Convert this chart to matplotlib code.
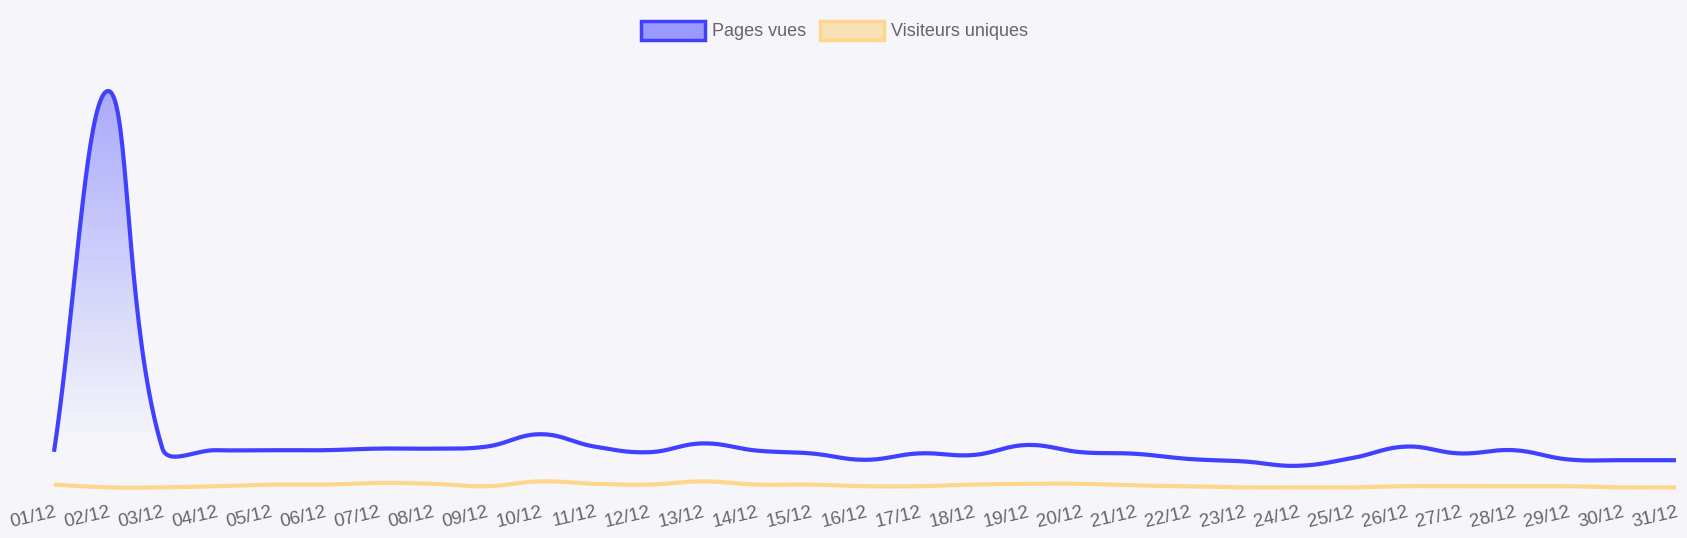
import numpy as np
import matplotlib
matplotlib.use("Agg")
import matplotlib.pyplot as plt
from matplotlib.patches import Patch, Polygon

plt.rcParams['font.family'] = ['Liberation Sans', 'DejaVu Sans']

# ---- data ----
labels = [f"{d:02d}/12" for d in range(1, 32)]
pages_vues = [98, 1000, 108, 102, 102, 102, 106, 106, 111, 142, 111, 97, 119, 101, 94,
              78, 94, 90, 115, 97, 93, 80, 74, 63, 82, 111, 94, 102, 79, 77, 77]
visiteurs = [16, 9, 9, 12, 16, 16, 20, 18, 12, 24, 18, 16, 24, 16, 16,
             12, 12, 16, 18, 18, 14, 12, 9, 9, 9, 12, 12, 12, 12, 9, 9]
series_names = ["Pages vues", "Visiteurs uniques"]

# ---- style ----
W, H = 1687, 538
BG = '#f5f5fa'
BLUE = '#4040ff'
ORANGE = '#fed68c'
TXT = '#666666'
TENSION = 0.4

fig = plt.figure(figsize=(W / 100, H / 100), dpi=100, facecolor=BG)
left_px, right_px, top_px, bot_px = 54, 1676, 75, 491
ax = fig.add_axes([left_px / W, 1 - bot_px / H, (right_px - left_px) / W, (bot_px - top_px) / H])
ax.set_facecolor(BG)
n = len(labels)
x = np.arange(n)
ax.set_xlim(0, n - 1)
ymax = (bot_px - top_px) * 2.5
ax.set_ylim(0, ymax)
for s in ax.spines.values():
    s.set_visible(False)
ax.set_yticks([])


def smooth(xs, ys, tension=TENSION, per=40):
    pts = ax.transData.transform(np.column_stack([xs, ys]))
    bb = ax.bbox
    m = len(pts)
    cprev = np.zeros_like(pts)
    cnext = np.zeros_like(pts)
    for i in range(m):
        cur = pts[i]
        prev = pts[i - 1] if i > 0 else cur
        nxt = pts[i + 1] if i < m - 1 else cur
        d01 = np.hypot(*(cur - prev))
        d12 = np.hypot(*(nxt - cur))
        tot = d01 + d12
        s01 = d01 / tot if tot else 0
        s12 = d12 / tot if tot else 0
        fa, fb = tension * s01, tension * s12
        cprev[i] = cur - fa * (nxt - prev)
        cnext[i] = cur + fb * (nxt - prev)
    for arr in (cprev, cnext):
        arr[:, 0] = np.clip(arr[:, 0], bb.x0, bb.x1)
        arr[:, 1] = np.clip(arr[:, 1], bb.y0, bb.y1)
    t = np.linspace(0, 1, per)[:, None]
    out = [pts[:1]]
    for i in range(m - 1):
        p0, p1, p2, p3 = pts[i], cnext[i], cprev[i + 1], pts[i + 1]
        seg = ((1 - t) ** 3) * p0 + 3 * ((1 - t) ** 2) * t * p1 + 3 * (1 - t) * t ** 2 * p2 + t ** 3 * p3
        out.append(seg[1:])
    disp = np.vstack(out)
    data = ax.transData.inverted().transform(disp)
    return data[:, 0], data[:, 1]


bx, by = smooth(x, pages_vues)
ox, oy = smooth(x, visiteurs)

# gradient fill under "Pages vues"
poly_xy = np.vstack([np.column_stack([bx, by]), [[bx[-1], 0], [bx[0], 0]]])
poly = Polygon(poly_xy, closed=True, facecolor='none', edgecolor='none', transform=ax.transData)
ax.add_patch(poly)
N = 400
yvals = np.linspace(ymax, 0, N)
ypix = bot_px - yvals / 2.5
alpha = 0.42 * np.clip((440 - ypix) / (440 - 85), 0, 1)
grad = np.zeros((N, 1, 4))
grad[..., 0] = 64 / 255
grad[..., 1] = 64 / 255
grad[..., 2] = 1.0
grad[:, 0, 3] = alpha
im = ax.imshow(grad, extent=[0, n - 1, 0, ymax], aspect='auto', origin='upper', zorder=1)
im.set_clip_path(poly)

ax.plot(ox, oy, color=ORANGE, lw=3.0, solid_capstyle='butt', zorder=2, clip_on=False)
ax.plot(bx, by, color=BLUE, lw=3.0, solid_capstyle='butt', zorder=3, clip_on=False)

ax.set_xticks(x)
ax.set_xticklabels(labels)
ax.tick_params(axis='x', length=0, pad=9, labelsize=13.5, labelcolor=TXT)
for lab in ax.get_xticklabels():
    lab.set_rotation(13)
    lab.set_ha('right')
    lab.set_va('top')
    lab.set_rotation_mode('anchor')

handles = [
    Patch(facecolor=(64 / 255, 64 / 255, 1, 0.5), edgecolor=BLUE, linewidth=2.5),
    Patch(facecolor=(1, 214 / 255, 140 / 255, 0.6), edgecolor=ORANGE, linewidth=2.5),
]
leg = fig.legend(handles, series_names, loc='upper center', bbox_to_anchor=(0.4947, 1 - 12 / H),
                 ncol=2, frameon=False, fontsize=13, handlelength=3.5, handleheight=1.2,
                 handletextpad=0.4, columnspacing=0.8, borderpad=0, labelcolor=TXT)

fig.savefig('out.png', dpi=100, facecolor=BG)
